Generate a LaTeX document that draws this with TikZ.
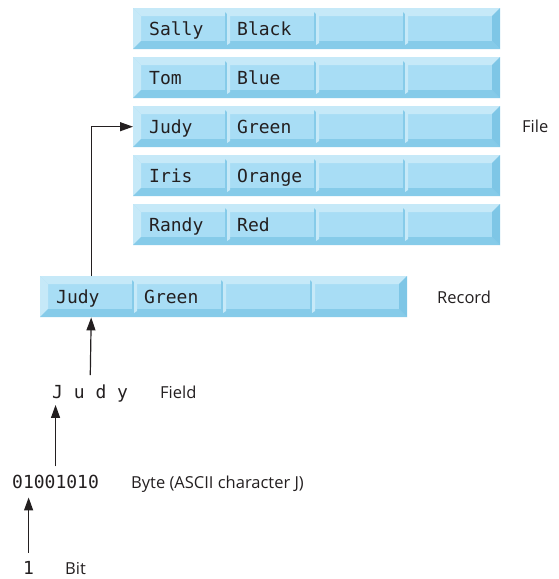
\documentclass[tikz,border=0pt]{standalone}
\usepackage{fontspec}
\setmainfont{Open Sans}
\newfontfamily\monof{DejaVu Sans Mono}
\usetikzlibrary{arrows.meta}
\definecolor{face}{HTML}{A8DDF5}
\definecolor{lite}{HTML}{C6E9F8}
\definecolor{dark}{HTML}{86CBE9}
\definecolor{darkr}{HTML}{7EC6E6}
\definecolor{ink}{HTML}{231F20}
\tikzset{
  cellbox/.style={rectangle, inner sep=0pt, minimum height=41pt},
  rowbox/.style={rectangle, inner sep=0pt, minimum width=367pt, minimum height=41pt, anchor=north west},
  celltxt/.style={inner sep=0pt, anchor=base west, font=\monof\fontsize{18}{20}\selectfont, text=ink},
  monotxt/.style={inner sep=0pt, anchor=base west, font=\monof\fontsize{18}{20}\selectfont, text=ink},
  lbl/.style={inner sep=0pt, anchor=base west, font=\fontsize{16.5}{19}\selectfont, text=ink},
  arr/.style={draw=ink, line width=1.2pt, -{Triangle[length=13pt,width=9pt]}}
}
\newcommand\bevelrow[5]{%
 \begin{scope}[shift={(#2,#3)}]
  \fill[face] (0,0) rectangle (367,41);
  \fill[lite] (0,0) -- (367,0) -- (359,8) -- (8,8) -- cycle;
  \fill[lite] (0,0) -- (8,8) -- (8,33) -- (0,41) -- cycle;
  \fill[dark] (0,41) -- (8,33) -- (359,33) -- (367,41) -- cycle;
  \fill[darkr] (367,0) -- (359,8) -- (359,33) -- (367,41) -- cycle;
  \foreach \dx in {94,183,272}{
    \fill[dark] (\dx-2,4) -- (\dx,6) -- (\dx,37) -- (\dx-2,35) -- cycle;
    \fill[lite] (\dx,6) -- (\dx+3,4) -- (\dx+3,35) -- (\dx,37) -- cycle;
  }
  \node[rowbox] (#1) at (0,0) {};
  \node[cellbox, minimum width=86pt, anchor=north west] (#1c1) at (8,0) {};
  \node[cellbox, minimum width=89pt, anchor=north west] (#1c2) at (94,0) {};
  \node[cellbox, minimum width=89pt, anchor=north west] (#1c3) at (183,0) {};
  \node[cellbox, minimum width=87pt, anchor=north west] (#1c4) at (272,0) {};
  \node[celltxt] (#1t1) at (16,27) {#4};
  \node[celltxt] (#1t2) at (104,27) {#5};
 \end{scope}}
\begin{document}
\begin{tikzpicture}[x=1pt,y=-1pt]
\useasboundingbox (0,0) rectangle (558,579);
\bevelrow{ra}{133}{8}{Sally}{Black}
\bevelrow{rb}{133}{57}{Tom}{Blue}
\bevelrow{rc}{133}{106}{Judy}{Green}
\bevelrow{rd}{133}{155}{Iris}{Orange}
\bevelrow{re}{133}{204}{Randy}{Red}
\bevelrow{rec}{40}{276}{Judy}{Green}
\node[lbl] (file) at (522,132) {File};
\node[lbl] (record) at (437,303) {Record};
\node[monotxt] (judyf) at (52,398) {J u d y};
\node[lbl] (field) at (160,398) {Field};
\node[monotxt] (byte) at (12,488) {01001010};
\node[lbl] (bytelbl) at (131,488) {Byte (ASCII character J)};
\node[monotxt] (bit) at (23,574) {1};
\node[lbl] (bitlbl) at (65,574) {Bit};
\draw[arr, shorten <=8pt, shorten >=9pt] (bit.north) -- (bit.north |- byte.south);
\draw[arr, shorten <=8pt, shorten >=3pt] (byte.north) -- (byte.north |- judyf.south);
\draw[arr, shorten <=9pt] (judyf.north) -- (recc1.south);
\draw[arr] (recc1.north) |- (rc.west);
\end{tikzpicture}
\end{document}
